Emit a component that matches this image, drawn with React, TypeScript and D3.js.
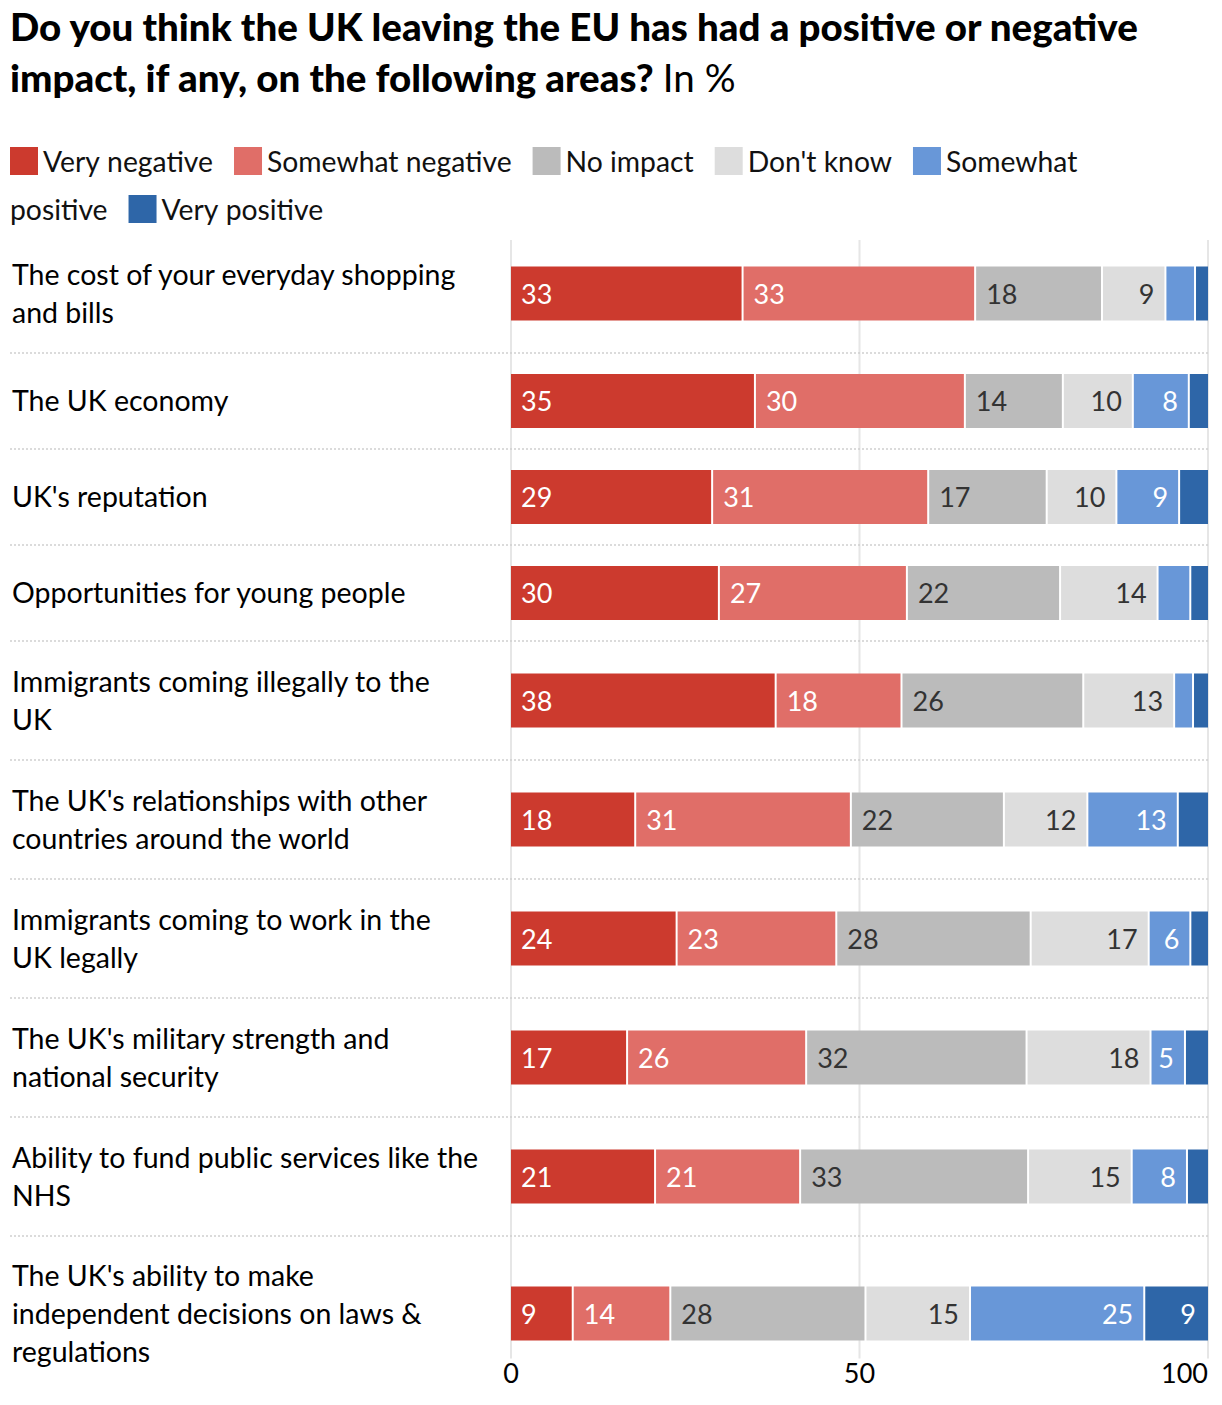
import * as d3 from "d3";
import { useEffect, useRef } from "react";

const titleBold = ["Do you think the UK leaving the EU has had a positive or negative", "impact, if any, on the following areas?"];
const titleUnit = "In %";

const seriesNames = ["Very negative", "Somewhat negative", "No impact", "Don't know", "Somewhat positive", "Very positive"];
const seriesColors = ["#cc3a2e", "#e06e68", "#bbbbbb", "#dddddd", "#6897d8", "#2e66a8"];

// category labels, already broken into the lines used in the source
const categories = [
  ["The cost of your everyday shopping", "and bills"],
  ["The UK economy"],
  ["UK's reputation"],
  ["Opportunities for young people"],
  ["Immigrants coming illegally to the", "UK"],
  ["The UK's relationships with other", "countries around the world"],
  ["Immigrants coming to work in the", "UK legally"],
  ["The UK's military strength and", "national security"],
  ["Ability to fund public services like the", "NHS"],
  ["The UK's ability to make", "independent decisions on laws &", "regulations"],
];

const veryNegative = [33, 35, 29, 30, 38, 18, 24, 17, 21, 9];
const somewhatNegative = [33, 30, 31, 27, 18, 31, 23, 26, 21, 14];
const noImpact = [18, 14, 17, 22, 26, 22, 28, 32, 33, 28];
const dontKnow = [9, 10, 10, 14, 13, 12, 17, 18, 15, 15];
const somewhatPositive = [4.2, 8, 9, 4.7, 2.7, 13, 6, 5, 8, 25];
const veryPositive = [1.7, 2.6, 4, 2.4, 2, 4.2, 2.4, 3.2, 2.9, 9];

const xTicks = [0, 50, 100];

const FONT = "Lato, 'Open Sans', sans-serif";

export default function App() {
  const ref = useRef<SVGSVGElement | null>(null);

  useEffect(() => {
    const width = 1222;
    const height = 1405;
    const svg = d3.select(ref.current).attr("width", width).attr("height", height);
    svg.selectAll("*").remove();

    const series = [veryNegative, somewhatNegative, noImpact, dontKnow, somewhatPositive, veryPositive];

    // title
    const title = svg.append("g").attr("font-family", FONT).attr("fill", "#000");
    title.append("text").attr("x", 10).attr("y", 41).attr("font-size", 38.5).attr("font-weight", 900).text(titleBold[0]);
    const t2 = title.append("text").attr("x", 10).attr("y", 92).attr("font-size", 38.5);
    t2.append("tspan").attr("font-weight", 900).text(titleBold[1] + " ");
    t2.append("tspan").attr("font-weight", 400).text(titleUnit);

    // legend, flowing like inline html
    const legend = svg.append("g").attr("font-family", FONT).attr("font-size", 28.3).attr("fill", "#111");
    const maxX = 1170;
    const sw = 28;
    let lx = 10;
    let ly = 147;
    const measure = legend.append("text").attr("visibility", "hidden");
    const textW = (s: string) => {
      measure.text(s);
      return (measure.node() as SVGTextElement).getComputedTextLength();
    };
    const spaceW = textW("a b") - textW("ab");
    seriesNames.forEach((name, i) => {
      const words = name.split(" ");
      if (lx + sw + 6 + textW(words[0]) > maxX) {
        lx = 10;
        ly += 48;
      }
      legend.append("rect").attr("x", lx).attr("y", ly).attr("width", sw).attr("height", sw).attr("fill", seriesColors[i]);
      lx += sw + 5;
      words.forEach((w, j) => {
        const wW = textW(w);
        if (j > 0) {
          if (lx + spaceW + wW > maxX) {
            lx = 10;
            ly += 48;
          } else lx += spaceW;
        }
        legend.append("text").attr("x", lx).attr("y", ly + 25).text(w);
        lx += wW;
      });
      lx += 21;
    });
    measure.remove();

    // rows
    const lineH = 38;
    const rowTop = 234;
    const rowH = categories.map((c) => Math.max(96, c.length * 36 + 47));
    const rowY: number[] = [];
    let acc = rowTop;
    rowH.forEach((h) => {
      rowY.push(acc);
      acc += h;
    });

    const x = d3.scaleLinear().domain([0, 100]).range([511, 1208]);
    const barH = 54;
    const lastBarBottom = rowY[rowY.length - 1] + rowH[rowH.length - 1] / 2 + barH / 2;

    // gridlines
    svg
      .append("g")
      .selectAll("line")
      .data(xTicks)
      .join("line")
      .attr("x1", (d) => x(d))
      .attr("x2", (d) => x(d))
      .attr("y1", rowTop + 6)
      .attr("y2", lastBarBottom + 18)
      .attr("stroke", "#e6e6e6")
      .attr("stroke-width", 2);

    // dotted separators
    svg
      .append("g")
      .selectAll("line")
      .data(rowY.slice(1))
      .join("line")
      .attr("x1", 10)
      .attr("x2", 1208)
      .attr("y1", (d) => d)
      .attr("y2", (d) => d)
      .attr("stroke", "#cfcfcf")
      .attr("stroke-width", 1.5)
      .attr("stroke-dasharray", "2,2");

    // category labels
    const labels = svg.append("g").attr("font-family", FONT).attr("font-size", 28.5).attr("fill", "#000");
    categories.forEach((lines, i) => {
      const cy = rowY[i] + rowH[i] / 2;
      const t = labels.append("text").attr("x", 12);
      lines.forEach((ln, j) => {
        t.append("tspan")
          .attr("x", 12)
          .attr("y", cy + (j - (lines.length - 1) / 2) * lineH + 10)
          .text(ln);
      });
    });

    // bars
    const bars = svg.append("g").attr("font-family", FONT).attr("font-size", 27);
    categories.forEach((_, i) => {
      const vals = series.map((s) => s[i]);
      const total = d3.sum(vals);
      const cy = rowY[i] + rowH[i] / 2;
      let cum = 0;
      vals.forEach((v, k) => {
        const x0 = x((cum / total) * 100);
        cum += v;
        const x1 = x((cum / total) * 100);
        bars
          .append("rect")
          .attr("x", x0)
          .attr("y", cy - barH / 2)
          .attr("width", Math.max(0, x1 - x0 - (k < vals.length - 1 ? 2 : 0)))
          .attr("height", barH)
          .attr("fill", seriesColors[k]);
        if (v >= 5) {
          const dark = k === 2 || k === 3;
          const left = k < 3;
          bars
            .append("text")
            .attr("x", left ? x0 + 10 : x1 - 12)
            .attr("y", cy + 10)
            .attr("text-anchor", left ? "start" : "end")
            .attr("fill", dark ? "#333" : "#fff")
            .text(Math.round(v));
        }
      });
    });

    // x axis labels
    svg
      .append("g")
      .attr("font-family", FONT)
      .attr("font-size", 27)
      .attr("fill", "#000")
      .selectAll("text")
      .data(xTicks)
      .join("text")
      .attr("x", (d) => x(d))
      .attr("y", lastBarBottom + 42)
      .attr("text-anchor", (d) => (d === 100 ? "end" : "middle"))
      .text((d) => d);
  }, []);

  return <svg ref={ref} style={{ position: "absolute", left: 0, top: 0, display: "block" }} />;
}
